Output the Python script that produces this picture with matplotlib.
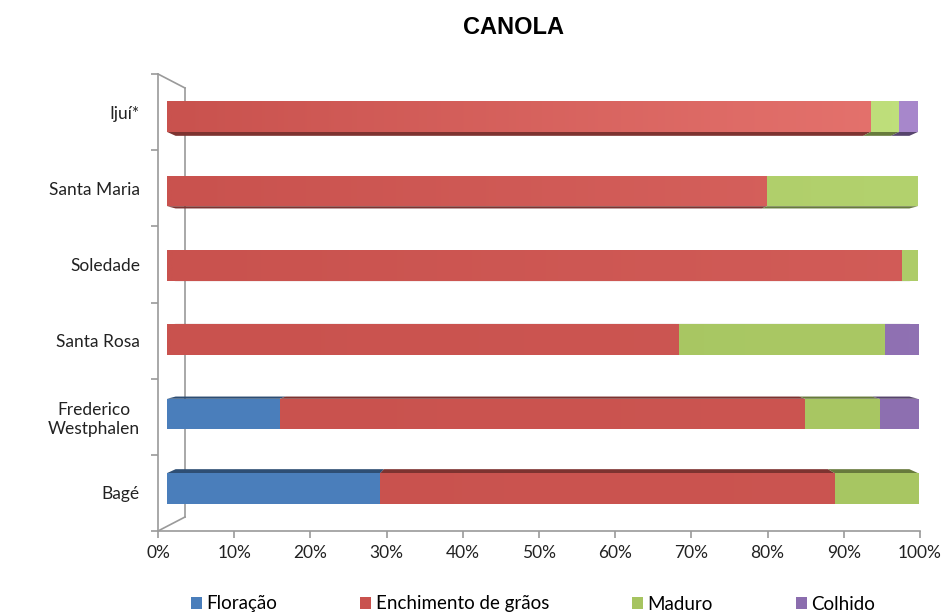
import matplotlib
matplotlib.use("Agg")
import matplotlib.pyplot as plt
from matplotlib.patches import Polygon
from matplotlib.lines import Line2D
from matplotlib.patches import Patch
import matplotlib.colors as mcolors
import numpy as np

plt.rcParams['font.family'] = ['Lato', 'DejaVu Sans']

categories = ["Ijuí*", "Santa Maria", "Soledade", "Santa Rosa", "Frederico\nWestphalen", "Bagé"]
series_names = ["Floração", "Enchimento de grãos", "Maduro", "Colhido"]
floracao   = [0.0, 0.0, 0.0, 0.0, 15.0, 28.4]
enchimento = [93.7, 79.9, 97.9, 68.2, 70.0, 60.5]
maduro     = [3.8, 20.1, 2.1, 27.4, 9.9, 11.1]
colhido    = [2.5, 0.0, 0.0, 4.4, 5.1, 0.0]
xtick_labels = ["0%", "10%", "20%", "30%", "40%", "50%", "60%", "70%", "80%", "90%", "100%"]

colors = ["#4A7EBB", "#C9524E", "#A6C460", "#8B6DAE"]
bright = ["#6C9FDC", "#E5736E", "#C0E07C", "#A888CC"]
# lighting strength per row (brighter toward the right)
light = [1.0, 0.5, 0.3, 0.15, 0.1, 0.08]

W, H = 949, 612
fig = plt.figure(figsize=(W / 100, H / 100), dpi=100)

def fx(px):
    return px / W

def fy(py):
    return 1 - py / H

# main (front) axes: ticks and walls
ax = fig.add_axes([fx(158), fy(531), fx(920) - fx(158), fy(74) - fy(531)])
ax.set_xlim(0, 100)
ax.set_ylim(5.5, -0.5)
for s in ["top", "right"]:
    ax.spines[s].set_visible(False)
for s in ["left", "bottom"]:
    ax.spines[s].set_color("#9a9a9a")
    ax.spines[s].set_linewidth(1.2)
ax.set_xticks(np.arange(0, 101, 10))
ax.set_xticklabels(xtick_labels, fontsize=12.5, color="#222222")
ax.set_yticks(range(len(categories)))
ax.set_yticklabels(categories, fontsize=12.5, ha="right", multialignment="center",
                   color="#222222")
ax.tick_params(axis="y", which="major", length=0, pad=13)
ax.set_yticks(np.arange(-0.5, 6.0, 1.0), minor=True)
ax.tick_params(axis="y", which="minor", length=5, color="#9a9a9a", width=1.2)
ax.tick_params(axis="x", length=5, color="#9a9a9a", width=1.2, pad=5)
ax.patch.set_alpha(0)

# back wall lines (in axes fraction)
axw = 920 - 158
axh = 531 - 74
bx = (185 - 158) / axw
top_back = (531 - 88) / axh
bot_back = (531 - 517) / axh
wall_kw = dict(color="#9a9a9a", lw=1.2, transform=ax.transAxes, clip_on=False, zorder=0)
ax.add_line(Line2D([0, bx], [1, top_back], **wall_kw))
ax.add_line(Line2D([0, bx], [0, bot_back], **wall_kw))
ax.add_line(Line2D([bx, bx], [bot_back, top_back], **wall_kw))

# bars axes (plane of the bars)
bax = fig.add_axes([fx(167), fy(525.5), fx(918) - fx(167), fy(79.5) - fy(525.5)])
bax.set_xlim(0, 100)
bax.set_ylim(5.5, -0.5)
bax.axis("off")
bax.patch.set_alpha(0)

h = 0.41
sfac = 0.977
vx, vy = 50.0, 2.5
data = [floracao, enchimento, maduro, colhido]
y = np.arange(len(categories))
left = np.zeros(len(categories))
for k, vals in enumerate(data):
    vals = np.array(vals)
    bars = bax.barh(y, vals, left=left, height=h, color=colors[k], edgecolor="none", zorder=3)
    base = np.array(mcolors.to_rgb(colors[k]))
    tgt = np.array(mcolors.to_rgb(bright[k]))
    dark = tuple(base * 0.62)
    for i in range(len(categories)):
        if vals[i] <= 0:
            continue
        x0, x1 = left[i], left[i] + vals[i]
        # gradient shading of the front face
        xs = np.linspace(x0, x1, 64) / 100.0
        t = (light[i] * xs)[:, None]
        grad = base[None, :] * (1 - t) + t * tgt[None, :]
        im = bax.imshow(grad[None, :, :], extent=(x0, x1, i + h / 2, i - h / 2),
                        aspect="auto", interpolation="bilinear", zorder=3.5)
        im.set_clip_path(bars.patches[i])
        # depth face (perspective)
        e = i + h / 2 if i < vy else i - h / 2
        eb = vy + (e - vy) * sfac
        x0b = vx + (x0 - vx) * sfac
        x1b = vx + (x1 - vx) * sfac
        bax.add_patch(Polygon([(x0, e), (x1, e), (x1b, eb), (x0b, eb)], closed=True,
                              facecolor=dark, edgecolor="none", zorder=2, clip_on=False))
    left = left + vals
bax.set_xlim(0, 100)
bax.set_ylim(5.5, -0.5)

fig.text(fx(513), fy(28), "CANOLA", ha="center", va="center", fontsize=17,
         fontweight="bold", family=["Liberation Sans", "DejaVu Sans"])

handles = [Patch(facecolor=c, edgecolor="none") for c in colors]
fig.legend(handles, series_names, loc="center", bbox_to_anchor=(fx(533), fy(604)), ncol=4,
           frameon=False, fontsize=13.5, handlelength=0.6, handleheight=0.6,
           handletextpad=0.25, columnspacing=4.4)

fig.savefig("out.png", dpi=100)
